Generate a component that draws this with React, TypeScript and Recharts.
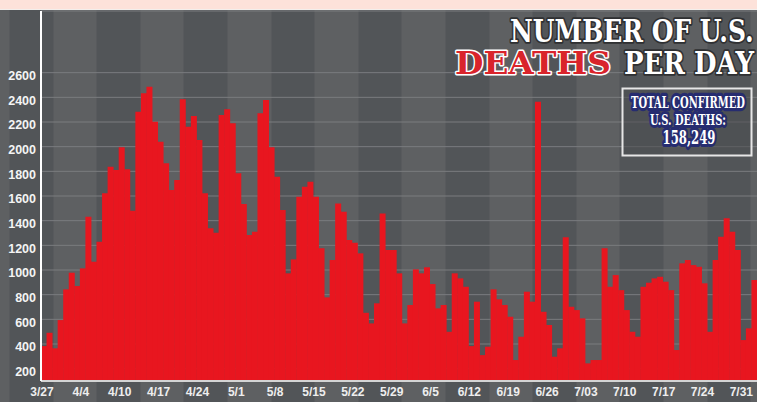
import { BarChart, Bar, XAxis, YAxis, CartesianGrid } from "recharts";

// daily deaths, 3/27 onwards
const deaths = [
  383, 491, 365, 594, 843, 978, 870, 1013, 1432, 1067,
  1229, 1622, 1837, 1811, 1995, 1816, 1481, 2283, 2433, 2486,
  2202, 2040, 1865, 1648, 1730, 2384, 2162, 2249, 2054, 1622,
  1338, 1302, 2257, 2303, 2189, 1784, 1535, 1283, 1310, 2270,
  2378, 1995, 1756, 1486, 973, 1086, 1594, 1675, 1716, 1594,
  1176, 778, 1081, 1540, 1472, 1243, 1221, 1135, 653, 567,
  730, 1459, 1162, 1162, 973, 567, 716, 1005, 973, 1022,
  886, 689, 716, 499, 973, 932, 864, 383, 743, 310,
  378, 843, 762, 716, 621, 270, 459, 824, 743, 2365,
  661, 554, 297, 365, 1265, 702, 675, 608, 243, 270,
  270, 1176, 864, 959, 837, 675, 499, 459, 864, 897,
  932, 945, 905, 837, 351, 1054, 1081, 1040, 1026, 892,
  499, 1081, 1270, 1419, 1310, 1162, 432, 527, 919,
];

const yTicks = [200, 400, 600, 800, 1000, 1200, 1400, 1600, 1800, 2000, 2200, 2400, 2600];

const tickLabels = [
  "3/27", "4/4", "4/10", "4/17", "4/24", "5/1", "5/8", "5/15", "5/22", "5/29",
  "6/5", "6/12", "6/19", "6/26", "7/03", "7/10", "7/17", "7/24", "7/31",
];

const dates = deaths.map((_, i) => {
  const d = new Date(2020, 2, 27 + i);
  return `${d.getMonth() + 1}/${d.getDate()}`;
});
const tickDates = tickLabels.map((_, k) => dates[k * 7]);
const chartData = deaths.map((v, i) => ({ date: dates[i], deaths: v }));

const W = 757;
const H = 402;
const AXIS_W = 41;
const BAND = (W - AXIS_W) / deaths.length;

const XTick = ({ x, y, payload }: any) => {
  const k = tickDates.indexOf(payload.value);
  return (
    <text
      x={x - BAND / 2 + 1}
      y={y}
      dy={11}
      textAnchor="middle"
      fill="#eeeeee"
      fontSize={12}
      fontWeight={700}
      fontFamily="'Liberation Sans', Arial, sans-serif"
    >
      {tickLabels[k]}
    </text>
  );
};

const serif = "'DejaVu Serif', 'Liberation Serif', serif";

// measure once so the headline can be squeezed to width without textLength
let ctx: CanvasRenderingContext2D | null = null;
function emWidth(text: string) {
  if (!ctx) ctx = document.createElement("canvas").getContext("2d");
  if (!ctx) return text.length * 0.7;
  ctx.font = `bold 100px ${serif}`;
  return ctx.measureText(text).width / 100;
}

// condensed slab text: width fixed, height set by font size
function Squeezed({
  text, x, y, width, size, anchor = "start", fill, stroke, strokeWidth,
}: any) {
  const fs = width / emWidth(text);
  const sy = size / fs;
  return (
    <text
      transform={`translate(${x},${y}) scale(1,${sy})`}
      textAnchor={anchor}
      fontFamily={serif}
      fontWeight={700}
      fontSize={fs}
      fill={fill}
      stroke={stroke}
      strokeWidth={strokeWidth}
      paintOrder="stroke"
      strokeLinejoin="round"
    >
      {text}
    </text>
  );
}

export default function App() {
  return (
    <div
      style={{
        position: "absolute",
        left: 0,
        top: 0,
        width: W,
        height: H,
        overflow: "hidden",
        backgroundColor: "#585a5d",
        backgroundImage:
          "repeating-linear-gradient(90deg, #525558 0px, #525558 43.6px, #5e6062 43.6px, #5e6062 87.2px)",
        backgroundPosition: "9.5px 0",
      }}
    >
      <BarChart
        width={W}
        height={H}
        data={chartData}
        margin={{ top: 11, right: 0, bottom: 0, left: 0 }}
        barCategoryGap={0}
        barGap={0}
      >
        <CartesianGrid vertical={false} stroke="#7a7c7f" strokeWidth={1} />
        <XAxis
          dataKey="date"
          type="category"
          ticks={tickDates}
          interval={0}
          height={21}
          tickLine={false}
          tickSize={0}
          tickMargin={4}
          axisLine={{ stroke: "#d4d4d4", strokeWidth: 2 }}
          tick={<XTick />}
        />
        <YAxis
          type="number"
          domain={[100, 3100]}
          ticks={yTicks}
          allowDataOverflow
          width={AXIS_W}
          tickLine={false}
          tickSize={0}
          tickMargin={5}
          axisLine={{ stroke: "#ffffff", strokeWidth: 2 }}
          tick={{
            fill: "#f4f4f4",
            fontSize: 12.5,
            fontWeight: 700,
            fontFamily: "'Liberation Sans', Arial, sans-serif",
            dy: 3,
          }}
        />
        <Bar dataKey="deaths" fill="#e8161f" isAnimationActive={false} />
      </BarChart>

      <div
        style={{
          position: "absolute",
          left: 0,
          top: 0,
          width: W,
          height: 9,
          background: "#fde2da",
          borderBottom: "1px solid #f3efec",
        }}
      />

      <svg
        width={W}
        height={H}
        style={{ position: "absolute", left: 0, top: 0, pointerEvents: "none" }}
      >
        <Squeezed text="NUMBER OF U.S." x={510} y={42} width={244} size={31}
          fill="#ffffff" stroke="#2f3032" strokeWidth={3} />
        <Squeezed text="DEATHS" x={455} y={74} width={156} size={32}
          fill="#d9242b" stroke="#ffffff" strokeWidth={3} />
        <Squeezed text="PER DAY" x={624} y={74} width={130} size={32}
          fill="#ffffff" stroke="#2f3032" strokeWidth={3} />

        <rect
          x={622.5}
          y={88.5}
          width={129}
          height={67}
          fill="#4c4e52"
          fillOpacity={0.6}
          stroke="#e6e6e6"
          strokeWidth={2}
        />
        <Squeezed text="TOTAL CONFIRMED" x={688} y={108} width={114} size={16}
          anchor="middle" fill="#ffffff" stroke="#262c70" strokeWidth={4} />
        <Squeezed text="U.S. DEATHS:" x={688} y={125} width={76} size={15}
          anchor="middle" fill="#ffffff" stroke="#262c70" strokeWidth={4} />
        <Squeezed text="158,249" x={689} y={144} width={53} size={18}
          anchor="middle" fill="#ffffff" stroke="#262c70" strokeWidth={4} />
      </svg>
    </div>
  );
}
